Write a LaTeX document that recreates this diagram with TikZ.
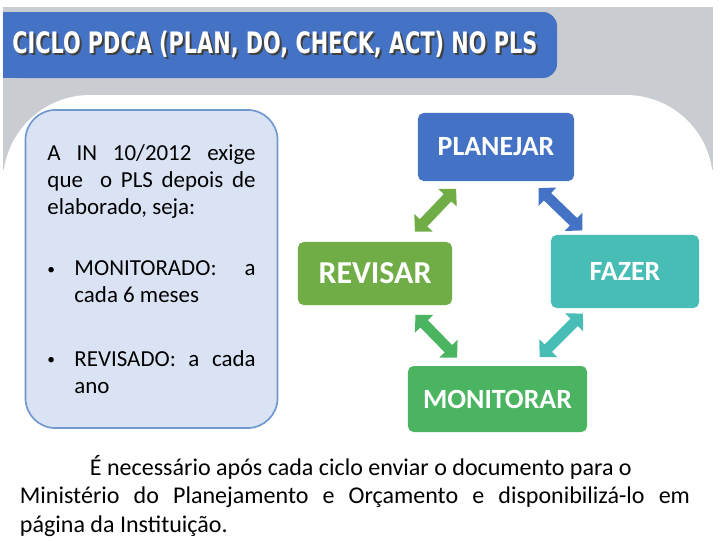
\documentclass[tikz,border=0pt]{standalone}
\usepackage{fontspec}
\setmainfont{Carlito}
\newfontfamily\titlefont{DejaVu Sans Condensed}
\usepackage{graphicx}
\usetikzlibrary{arrows.meta,calc}
\definecolor{pdcaBlue}{HTML}{4472C4}
\definecolor{pdcaGreen}{HTML}{70AD47}
\definecolor{pdcaTeal}{HTML}{47BDB6}
\definecolor{pdcaMint}{HTML}{4AB461}
\definecolor{panelGray}{HTML}{C9CDD1}
\definecolor{noteFill}{HTML}{DAE3F3}
\definecolor{noteLine}{HTML}{7198CF}
\newcommand{\pdcatitle}{\resizebox{13.125cm}{0.56cm}{\titlefont\bfseries CICLO PDCA (PLAN, DO, CHECK, ACT) NO PLS}}
\newcommand{\notebullet}{\makebox[0.675cm][l]{\fontsize{11}{11}\selectfont\raisebox{1pt}{•}}}

\begin{document}
\begin{tikzpicture}[x=0.025cm, y=-0.025cm,
  pdca/.style={rectangle, rounded corners=4pt, inner sep=0pt, text=white, font=\fontsize{19.8}{24}\selectfont\bfseries},
  notebox/.style={rectangle, draw=noteLine, line width=1.2pt, fill=noteFill, rounded corners=0.75cm,
    minimum width=6.3cm, minimum height=7.95cm, text width=5.2cm, align=justify, inner sep=0pt,
    font=\fontsize{16.3}{19.2}\selectfont},
  dbl/.style={line width=0.26cm, {Triangle[width=0.62cm,length=0.31cm]}-{Triangle[width=0.62cm,length=0.31cm]}}]
\useasboundingbox (0,0) rectangle (720,540);
% gray panel, white sheet with big round corners on top of it
\fill[panelGray] (3,7) rectangle (713,170);
\fill[white, rounded corners=62] (3,540) -- (3,95) -- (713,95) -- (713,540);
% title bar (square on the left, round on the right)
\fill[pdcaBlue, rounded corners=10] (3,12) rectangle (557,78);
\fill[pdcaBlue] (3,12) rectangle (40,78);
\node[anchor=base west, inner sep=0pt, text=black!75] (titleshadow) at (14,55.5) {\pdcatitle};
\node[anchor=base west, inner sep=0pt, text=white] (title) at (12,53.5) {\pdcatitle};
% note on the left
\node[notebox] (note) at (151.5,269) {%
  \noindent A IN 10/2012 exige\linebreak que~ o PLS depois de\linebreak elaborado, seja:\par
  \vspace{0.85cm}
  {\noindent\hangindent=0.675cm\hangafter=1\notebullet MONITORADO: a\linebreak cada 6 meses\par}
  \vspace{0.92cm}
  {\noindent\hangindent=0.675cm\hangafter=1\notebullet REVISADO: a cada\linebreak ano\par}};
% the four steps of the cycle
\node[pdca, fill=pdcaBlue, minimum width=3.9cm, minimum height=1.7cm] (plan) at (496,147) {PLANEJAR};
\node[pdca, fill=pdcaGreen, minimum width=3.85cm, minimum height=1.575cm,
  font=\fontsize{22.7}{26}\selectfont\bfseries] (revisar) at (375,273.5) {REVISAR};
\node[pdca, fill=pdcaTeal, minimum width=3.7cm, minimum height=1.825cm] (fazer) at (625,271.5) {FAZER};
\node[pdca, fill=pdcaMint, minimum width=4.475cm, minimum height=1.65cm] (monitorar) at (497.5,399) {MONITORAR};
% double arrows between the steps
\draw[dbl, pdcaGreen] ($(plan)!0.33!(revisar)$) -- ($(plan)!0.67!(revisar)$);
\draw[dbl, pdcaBlue] ($(plan)!0.33!(fazer)$) -- ($(plan)!0.67!(fazer)$);
\draw[dbl, pdcaMint] ($(revisar)!0.33!(monitorar)$) -- ($(revisar)!0.67!(monitorar)$);
\draw[dbl, pdcaTeal] ($(fazer)!0.33!(monitorar)$) -- ($(fazer)!0.67!(monitorar)$);
% text at the bottom
\node[text width=16.75cm, align=justify, inner sep=0pt, font=\fontsize{17.1}{20.5}\selectfont] (rodape) at (355,496)
  {\hspace*{1.75cm}É necessário após cada ciclo enviar o documento para o\\
   Ministério do Planejamento e Orçamento e disponibilizá-lo em\linebreak página da Instituição.};
\end{tikzpicture}
\end{document}
